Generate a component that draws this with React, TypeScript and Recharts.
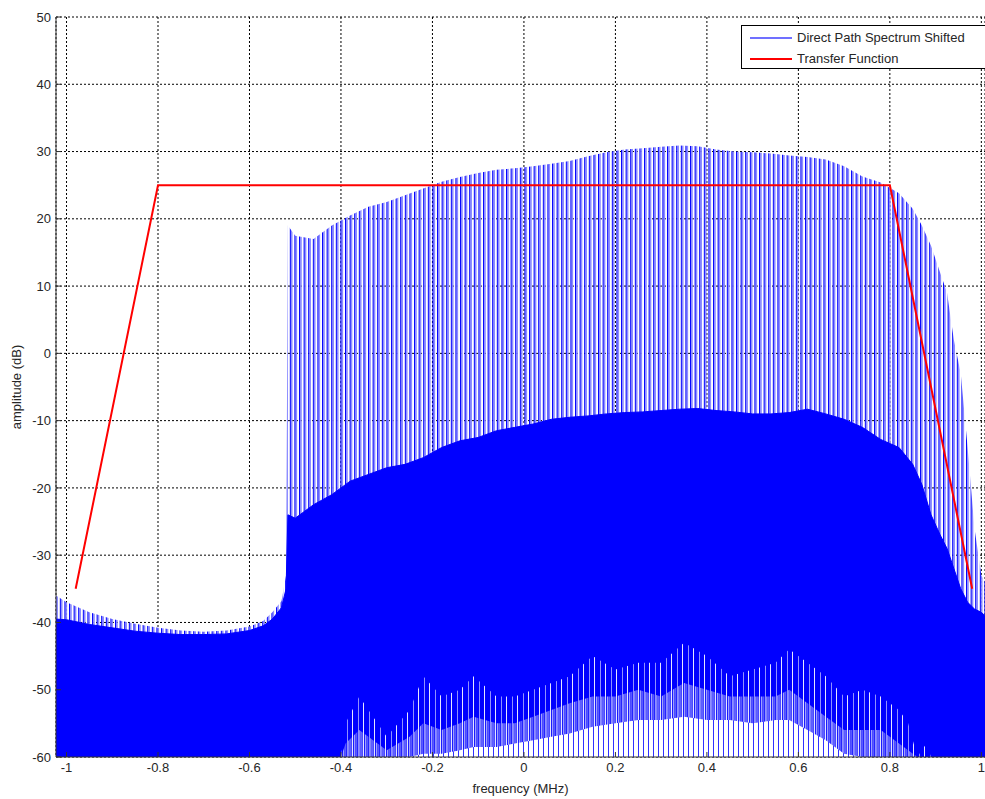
import {
  ComposedChart,
  Area,
  Line,
  XAxis,
  YAxis,
  CartesianGrid,
  Legend,
} from 'recharts';

// Spectrum envelopes (frequency in MHz, amplitude in dB)
const FREQ = [
  -1.023, -1.0, -0.95, -0.9, -0.85, -0.8, -0.75, -0.7, -0.65, -0.6, -0.57, -0.55, -0.53, -0.52,
  -0.516, -0.5, -0.46, -0.42, -0.38, -0.34, -0.3, -0.26, -0.22, -0.18, -0.14, -0.1, -0.06, -0.02,
  0.02, 0.06, 0.1, 0.14, 0.18, 0.22, 0.26, 0.3, 0.34, 0.38, 0.42, 0.46, 0.5, 0.54, 0.58, 0.62,
  0.66, 0.7, 0.74, 0.78, 0.82, 0.85, 0.87, 0.89, 0.91, 0.925, 0.94, 0.955, 0.97, 0.985, 1.0, 1.008,
];

// top of the spikes
const SPIKE_TOP = [
  -36, -37, -38.5, -39.5, -40.2, -40.8, -41.2, -41.4, -41.2, -40.6, -39.8, -38.5, -36.8, -33,
  19, 17.5, 17, 19, 20.5, 21.8, 22.5, 23.5, 24.5, 25.5, 26.2, 26.8, 27.3, 27.5,
  27.8, 28.2, 28.6, 29.3, 29.9, 30.3, 30.5, 30.7, 30.9, 30.8, 30.3, 30, 29.9, 29.7, 29.4, 29.2,
  28.8, 27.8, 26.3, 25.4, 23.8, 21.5, 19, 16, 12, 9, 2, -3, -14, -26, -33, -34,
];

// top of the solid part underneath the spikes
const FLOOR = [
  -39.5, -39.6, -40.3, -40.8, -41.3, -41.6, -41.8, -41.8, -41.7, -41.2, -40.5, -39.5, -37.8, -35,
  -24, -24.5, -22.5, -21, -19, -18, -17, -16.5, -15.5, -14, -13, -12.5, -11.5, -11,
  -10.5, -9.8, -9.5, -9.3, -9, -8.8, -8.7, -8.5, -8.3, -8.2, -8.5, -8.7, -9, -9, -8.8, -8.3,
  -9, -9.8, -11, -12.8, -14, -16.5, -19.5, -24, -27, -29, -32, -35, -37, -38, -38.5, -39,
];

// noise gaps near the bottom of the plot: highest gaps, where they get dense, where they merge
const NOISE_FREQ = [
  -0.4, -0.39, -0.36, -0.3, -0.25, -0.22, -0.18, -0.14, -0.11, -0.06, -0.02, 0.02, 0.06, 0.1,
  0.15, 0.2, 0.25, 0.3, 0.35, 0.4, 0.45, 0.5, 0.55, 0.58, 0.62, 0.66, 0.7, 0.74, 0.78, 0.82,
  0.84, 0.86, 0.88, 0.89,
];
const NOISE_PEAK = [
  -60, -55, -51, -57, -53, -48, -51, -50, -48, -51, -51, -50, -49, -48,
  -45, -47, -46, -46, -43, -45, -48, -47, -46, -44, -46, -48, -51, -50, -51, -53,
  -55, -60, -58, -60,
];
const NOISE_MID = [
  -60, -58, -56, -59, -57, -55, -56, -55, -54, -55, -55, -54, -53, -52,
  -51, -51, -50, -51, -49, -50, -51, -51, -51, -50, -52, -54, -56, -56, -56, -58,
  -59, -60, -60, -60,
];
const NOISE_BASE = [
  -60, -60, -60, -60, -60, -59.5, -59.5, -59, -58.5, -58.5, -58, -57.5, -57, -56.5,
  -55.5, -55, -54.5, -54.5, -54, -54.5, -54.5, -55, -54.5, -54.5, -56, -57.5, -59.5, -60, -60, -60,
  -60, -60, -60, -60,
];

const TF_FREQ = [-0.98, -0.8, 0.8, 0.98];
const TF_GAIN = [-35, 25, 25, -35];

const X_TICKS = [-1, -0.8, -0.6, -0.4, -0.2, 0, 0.2, 0.4, 0.6, 0.8, 1];
const Y_TICKS = [-60, -50, -40, -30, -20, -10, 0, 10, 20, 30, 40, 50];

const LEGEND_ITEMS = [
  { name: 'Direct Path Spectrum Shifted', color: '#7070ff', width: 2 },
  { name: 'Transfer Function', color: '#ff0000', width: 2 },
];

const FONT = '"Liberation Sans", Arial, sans-serif';
const TEXT_COLOR = '#262626';

const spectrum = FREQ.map((f, i) => ({ f, top: SPIKE_TOP[i], floor: FLOOR[i] }));
const noise = NOISE_FREQ.map((f, i) => ({
  f,
  peak: NOISE_PEAK[i],
  mid: NOISE_MID[i],
  base: NOISE_BASE[i],
}));
const transfer = TF_FREQ.map((f, i) => ({ f, gain: TF_GAIN[i] }));

function LegendBox() {
  return (
    <div
      style={{
        border: '1px solid #000',
        background: '#fff',
        width: 300,
        height: 44,
        paddingTop: 1,
        boxSizing: 'border-box',
      }}
    >
      {LEGEND_ITEMS.map((item) => (
        <div key={item.name} style={{ display: 'flex', alignItems: 'center', height: 21 }}>
          <div style={{ width: 8 }} />
          <div style={{ width: 42, height: item.width, background: item.color }} />
          <span style={{ marginLeft: 5, fontSize: 13, color: TEXT_COLOR, fontFamily: FONT }}>
            {item.name}
          </span>
        </div>
      ))}
    </div>
  );
}

function YLabel(props: any) {
  const vb = props.viewBox || { x: 0, y: 0, height: 0 };
  const x = vb.x + 16;
  const y = vb.y + vb.height / 2;
  return (
    <text
      x={x}
      y={y}
      transform={`rotate(-90 ${x} ${y})`}
      textAnchor="middle"
      dominantBaseline="central"
      fontSize={13}
      fill={TEXT_COLOR}
      fontFamily={FONT}
    >
      amplitude (dB)
    </text>
  );
}

const areaProps = {
  type: 'linear' as const,
  baseValue: -60,
  dot: false,
  activeDot: false,
  isAnimationActive: false,
  legendType: 'none' as const,
};

export default function App() {
  return (
    <div
      style={{
        position: 'absolute',
        left: 0,
        top: 0,
        width: 985,
        height: 799,
        overflow: 'hidden',
        background: '#fff',
        fontFamily: FONT,
      }}
    >
      <ComposedChart width={985} height={799} data={spectrum} margin={{ top: 17, right: 0, bottom: 0, left: 0 }}>
        <defs>
          {/* dense vertical spikes: blue line, anti-aliased edge, gap */}
          <pattern id="spikes" x="0" y="0" width="4.6" height="10" patternUnits="userSpaceOnUse">
            <rect x="0" y="0" width="1" height="10" fill="#0000ff" />
            <rect x="1" y="0" width="1.7" height="10" fill="#8585ff" />
          </pattern>
          <pattern id="noiseSparse" x="0" y="0" width="11" height="10" patternUnits="userSpaceOnUse">
            <rect x="0" y="0" width="1" height="10" fill="#ffffff" />
            <rect x="6" y="0" width="1" height="10" fill="#a0a0ff" />
          </pattern>
          <pattern id="noiseMid" x="0" y="0" width="5.5" height="10" patternUnits="userSpaceOnUse">
            <rect x="2" y="0" width="1" height="10" fill="#ffffff" />
            <rect x="4" y="0" width="1" height="10" fill="#b0b0ff" />
          </pattern>
          <pattern id="noiseDense" x="0" y="0" width="5" height="10" patternUnits="userSpaceOnUse">
            <rect x="0" y="0" width="5" height="10" fill="#ffffff" />
            <rect x="3" y="0" width="1" height="10" fill="#3030ff" />
          </pattern>
        </defs>
        <CartesianGrid stroke="#000" strokeDasharray="2 2" />
        <XAxis
          dataKey="f"
          type="number"
          domain={[-1.023, 1.008]}
          ticks={X_TICKS}
          allowDataOverflow
          height={42}
          tickSize={-5}
          tickMargin={11}
          tick={{ fontSize: 13, fill: TEXT_COLOR, fontFamily: FONT }}
          stroke="#333"
          label={{ value: 'frequency (MHz)', position: 'insideBottom', offset: 6, fontSize: 13, fill: TEXT_COLOR, fontFamily: FONT }}
        />
        <YAxis
          type="number"
          domain={[-60, 50]}
          ticks={Y_TICKS}
          allowDataOverflow
          width={56}
          tickSize={-5}
          tickMargin={10}
          tick={{ fontSize: 13, fill: TEXT_COLOR, fontFamily: FONT }}
          stroke="#333"
          label={<YLabel />}
        />
        <Legend
          layout="horizontal"
          verticalAlign="middle"
          align="center"
          content={() => <LegendBox />}
          wrapperStyle={{ top: 25, left: 741, width: 300, height: 44 }}
        />
        <Area {...areaProps} dataKey="top" stroke="none" fill="url(#spikes)" fillOpacity={1} />
        <Area {...areaProps} dataKey="floor" stroke="#0000ff" strokeWidth={1} fill="#0000ff" fillOpacity={1} />
        <Area {...areaProps} data={noise} dataKey="peak" stroke="none" fill="url(#noiseSparse)" fillOpacity={0.9} />
        <Area {...areaProps} data={noise} dataKey="mid" stroke="none" fill="url(#noiseMid)" fillOpacity={0.9} />
        <Area {...areaProps} data={noise} dataKey="base" stroke="none" fill="url(#noiseDense)" fillOpacity={1} />
        <Line
          data={transfer}
          dataKey="gain"
          type="linear"
          stroke="#ff0000"
          strokeWidth={2}
          dot={false}
          activeDot={false}
          isAnimationActive={false}
          legendType="none"
        />
      </ComposedChart>
    </div>
  );
}
